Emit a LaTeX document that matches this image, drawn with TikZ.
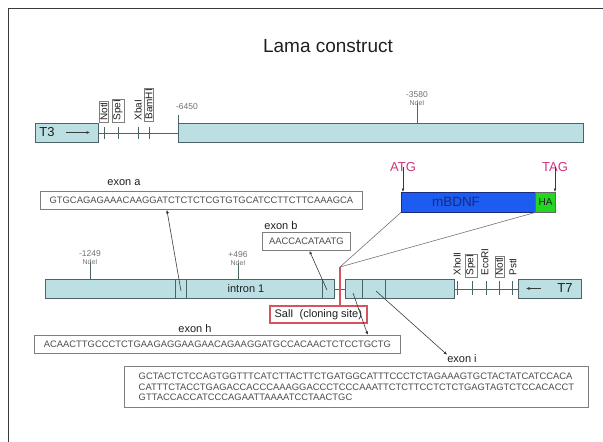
\documentclass[tikz,border=0pt]{standalone}
\usepackage{fontspec}
\setmainfont{Liberation Sans}
\usepackage{tikz}
\usetikzlibrary{arrows.meta,calc}
\definecolor{segfill}{HTML}{BCDFE4}
\definecolor{segline}{HTML}{4C6468}
\definecolor{boxline}{HTML}{7E7E7E}
\definecolor{seqtext}{HTML}{4E4E4E}
\definecolor{numgray}{HTML}{707070}
\definecolor{bdnfblue}{HTML}{1C5CF0}
\definecolor{bdnftext}{HTML}{1A2A7C}
\definecolor{hagreen}{HTML}{22D622}
\definecolor{codonmag}{HTML}{D2337C}
\definecolor{salred}{HTML}{D5545E}
\definecolor{framegray}{HTML}{3A3A3A}

\begin{document}
\begin{tikzpicture}[x=1pt, y=-1pt, every node/.style={font=\fontsize{11}{13}\selectfont, inner sep=0pt, text=black!88},
  seg/.style={draw=segline, fill=segfill, line width=0.8pt, anchor=north west, minimum height=19pt},
  seqbox/.style={draw=boxline, line width=0.8pt, fill=white, anchor=north west, minimum height=18pt, font=\fontsize{9.4}{10.2}\selectfont, text=seqtext},
  enzyme/.style={rotate=90, anchor=west, font=\fontsize{10}{11}\selectfont, inner sep=1.2pt},
  enzymebox/.style={enzyme, draw=boxline, fill=white},
  numlbl/.style={font=\fontsize{8.5}{9}\selectfont, text=numgray},
  ndelbl/.style={font=\fontsize{7}{8}\selectfont, text=numgray},
  codon/.style={font=\fontsize{13}{15}\selectfont, text=codonmag},
  tip/.style={draw=framegray, line width=0.6pt, -{Latex[length=3.5pt,width=3pt]}}]
  \useasboundingbox (0,0) rectangle (603,442);
  \draw[framegray, line width=1pt] (8,442) -- (8,8) -- (603,8);

  \node[font=\fontsize{19}{22}\selectfont] (title) at (328,46) {Lama construct};

  % upstream part with T3
  \node[seg, minimum width=63pt] (t3) at (35,123) {};
  \node[font=\fontsize{13}{15}\selectfont] (t3lbl) at (47,132.5) {T3};
  \coordinate (t3from) at (66,132.5);
  \coordinate (t3to) at (90,132.5);
  \draw[tip] (t3from) -- (t3to);
  \node[seg, minimum width=405pt] (upstream) at (178,123) {};
  \draw[segline, line width=0.8pt] (t3.east) -- (upstream.west);
  \foreach \x in {104,118,138,149} \draw[segline, line width=0.8pt] (\x,127) -- (\x,139);
  \node[enzymebox] (notIa) at (104,122) {NotI};
  \node[enzymebox] (speIa) at (118,122) {SpeI};
  \node[enzyme] (xbaI) at (138,122) {XbaI};
  \node[enzymebox] (bamHI) at (149,121) {BamHI};
  \node[numlbl] (pos6450) at (187,107) {-6450};
  \draw[segline, line width=0.8pt] (upstream.north west) -- ++(0,-8);
  \node[numlbl] (pos3580) at (417,95) {-3580};
  \node[ndelbl] (ndeIa) at (417,103) {NdeI};
  \draw[segline, line width=0.8pt] ([yshift=3pt]ndeIa.south) -- (ndeIa.south |- upstream.north);

  % insert
  \node[codon] (atg) at (403,167) {ATG};
  \node[codon] (tag) at (555,167) {TAG};
  \node[draw=bdnftext, fill=bdnfblue, anchor=north west, minimum width=134pt, minimum height=20pt] (bdnf) at (401,192) {};
  \node[font=\fontsize{13.5}{15}\selectfont, text=bdnftext] (bdnflbl) at (456,202) {mBDNF};
  \node[draw=black!60, fill=hagreen, anchor=west, minimum width=20pt, minimum height=20pt, font=\fontsize{10}{12}\selectfont] (ha) at (bdnf.east) {HA};
  \draw[tip] ([yshift=5pt]atg.south) -- (atg.south |- bdnf.north);
  \draw[tip] ([yshift=5pt]tag.south) -- (tag.south |- ha.north);

  % exon sequences
  \node (exonalbl) at (124,183) {exon a};
  \node[seqbox, minimum width=322pt] (exona) at (40,191) {GTGCAGAGAAACAAGGATCTCTCTCGTGTGCATCCTTCTTCAAAGCA};
  \node (exonblbl) at (281,226) {exon b};
  \node[seqbox, minimum width=88pt] (exonb) at (262,232) {AACCACATAATG};

  % lower construct with T7
  \node[seg, minimum width=289pt] (intron) at (45,279) {};
  \node (intronlbl) at (246,289) {intron 1};
  \foreach \x in {175,186,322} \draw[segline, line width=0.8pt] (\x,279) -- (\x,298);
  \node[seg, minimum width=109pt] (downstream) at (345,279) {};
  \foreach \x in {362,385} \draw[segline, line width=0.8pt] (\x,279) -- (\x,298);
  \node[seg, minimum width=63pt] (t7) at (518,279) {};
  \node[font=\fontsize{13}{15}\selectfont] (t7lbl) at (565,288.5) {T7};
  \coordinate (t7from) at (541,288.5);
  \coordinate (t7to) at (526,288.5);
  \draw[tip] (t7from) -- (t7to);
  \draw[segline, line width=0.8pt] (intron.east) -- (downstream.west);
  \draw[segline, line width=0.8pt] (downstream.east) -- (t7.west);
  \foreach \x in {457,472,486,499,512} \draw[segline, line width=0.8pt] (\x,281) -- (\x,295);
  \node[enzyme] (xhoII) at (457,277) {XhoII};
  \node[enzymebox] (speIb) at (471,277) {SpeI};
  \node[enzyme] (ecoRI) at (485,277) {EcoRI};
  \node[enzymebox] (notIb) at (499.5,277) {NotI};
  \node[enzyme] (pstI) at (513,277) {PstI};
  \node[numlbl] (pos1249) at (90,254) {-1249};
  \node[ndelbl] (ndeIb) at (90,262) {NdeI};
  \draw[segline, line width=0.8pt] ([yshift=3pt]ndeIb.south) -- (ndeIb.south |- intron.north);
  \node[numlbl] (pos496) at (238,255) {+496};
  \node[ndelbl] (ndeIc) at (238,263) {NdeI};
  \draw[segline, line width=0.8pt] ([yshift=3pt]ndeIc.south) -- (ndeIc.south |- intron.north);

  % cloning site
  \node[draw=salred, line width=1.6pt, fill=white, anchor=north west, minimum width=97pt, minimum height=17pt] (sall) at (269,305) {SalI\ \ (cloning site)};
  \coordinate (clone) at (340,267);
  \draw[salred, line width=1.2pt] (clone) -- (clone |- sall.north);
  \draw[black!55, line width=0.6pt] (clone) -- (bdnf.south west);
  \draw[black!55, line width=0.6pt] (clone) -- (ha.south west);

  \node (exonhlbl) at (195,329) {exon h};
  \node[seqbox, minimum width=366pt] (exonh) at (34,335) {ACAACTTGCCCTCTGAAGAGGAAGAACAGAAGGATGCCACAACTCTCCTGCTG};
  \node (exonilbl) at (462,359) {exon i};
  \node[seqbox, minimum width=464pt, minimum height=41pt, align=left] (exoni) at (124,366) {GCTACTCTCCAGTGGTTTCATCTTACTTCTGATGGCATTTCCCTCTAGAAAGTGCTACTATCATCCACA\\CATTTCTACCTGAGACCACCCAAAGGACCCTCCCAAATTCTCTTCCTCTCTGAGTAGTCTCCACACCT\\GTTACCACCATCCCAGAATTAAAATCCTAACTGC};

  % exon pointers
  \coordinate (exaSrc) at (181,291);
  \coordinate (exbSrc) at (327,290);
  \coordinate (exhSrc) at (353,293);
  \coordinate (exiSrc) at (376,291);
  \draw[tip] (exaSrc) -- ($(exona.south west)!0.393!(exona.south east)$);
  \draw[tip] (exbSrc) -- ($(exonb.south west)!0.534!(exonb.south east)$);
  \draw[tip] (exhSrc) -- ($(exonh.north west)!0.91!(exonh.north east)$);
  \draw[tip] (exiSrc) -- (exonilbl.north west);
\end{tikzpicture}
\end{document}
